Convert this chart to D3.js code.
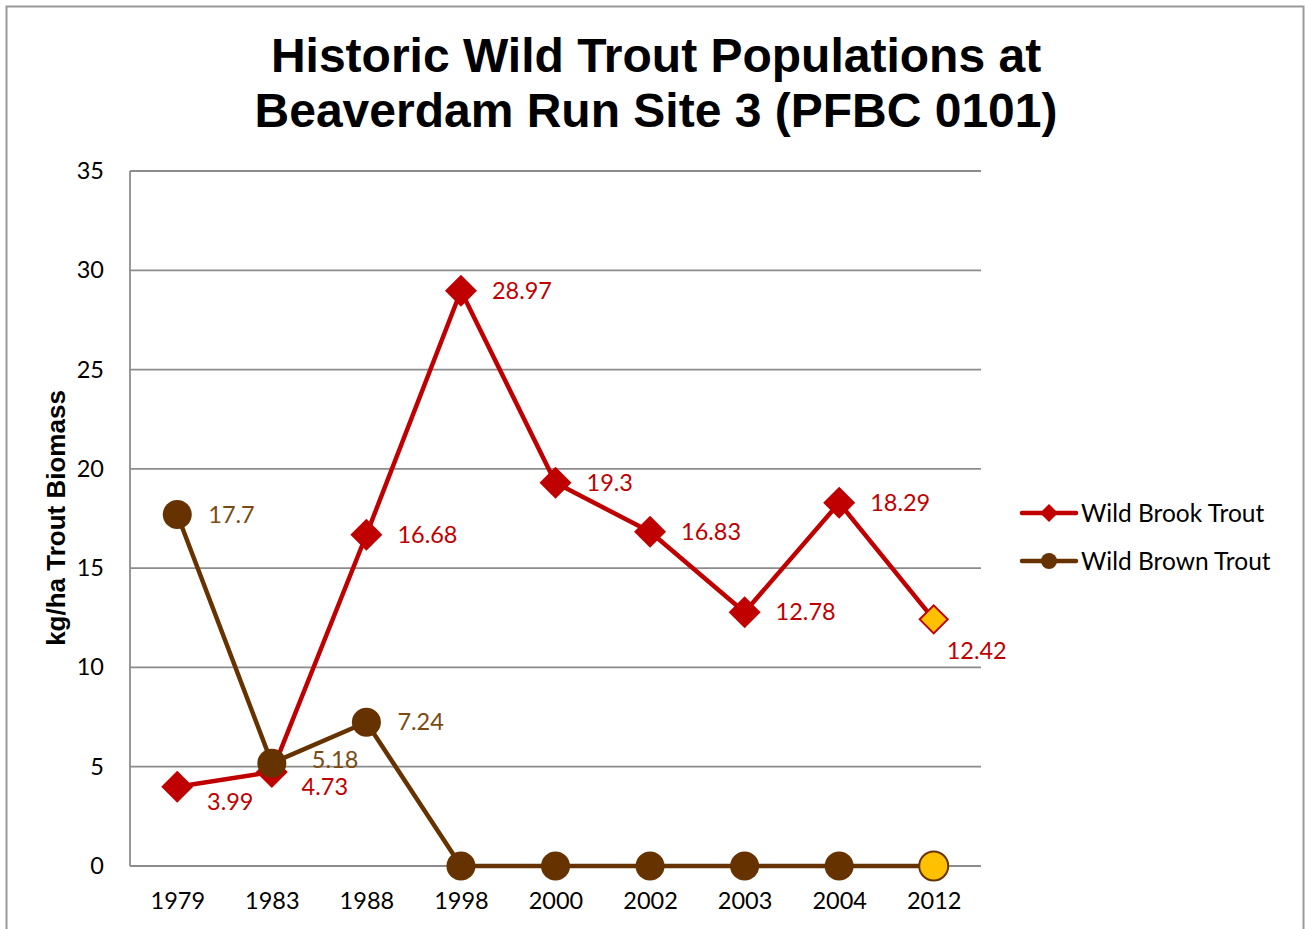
<!DOCTYPE html>
<html>
<head>
<meta charset="utf-8">
<script src="https://cdn.jsdelivr.net/npm/d3@7"></script>
<style>
  html, body { margin: 0; padding: 0; background: #fff; }
  svg { display: block; }
</style>
</head>
<body>
<svg id="chart" width="1305" height="929"></svg>
<script>
// Survey years and biomass (kg/ha) for each species
const years = ["1979", "1983", "1988", "1998", "2000", "2002", "2003", "2004", "2012"];
const brookTrout = [3.99, 4.73, 16.68, 28.97, 19.3, 16.83, 12.78, 18.29, 12.42];
const brownTrout = [17.7, 5.18, 7.24, 0, 0, 0, 0, 0, 0];
const yTicks = [0, 5, 10, 15, 20, 25, 30, 35];
const titleLines = ["Historic Wild Trout Populations at", "Beaverdam Run Site 3 (PFBC 0101)"];
const yLabel = "kg/ha Trout Biomass";
const seriesNames = ["Wild Brook Trout", "Wild Brown Trout"];
// Where each value label sits relative to its marker:
// r = right, rr = further right, br = below right, b = below
const brookLabelPlace = ["br", "br", "r", "r", "r", "r", "r", "r", "b"];
const brownLabelPlace = ["r", "rr", "r", "", "", "", "", "", ""];
// The latest survey is highlighted
const highlightYear = "2012";

const RED = "#C00000", BROWN = "#663300", BROWN_TEXT = "#7A4A10", GOLD = "#FFC000", GRID = "#8C8C8C";
const NUM_FONT = "Lato, 'Open Sans', sans-serif";
const ARIAL = "'Liberation Sans', Arial, sans-serif";

// label anchor offsets per placement code
const PLACE = {
  r:  { dx: 31, dy: 0,  anchor: "start" },
  rr: { dx: 40, dy: -3, anchor: "start" },
  br: { dx: 53, dy: 15, anchor: "middle" },
  b:  { dx: 43, dy: 31, anchor: "middle" }
};

const svg = d3.select("#chart");

// outer frame
svg.append("rect").attr("x", 6.5).attr("y", 6.5).attr("width", 1297).attr("height", 940)
  .attr("fill", "#fff").attr("stroke", "#9a9a9a").attr("stroke-width", 2);

const plot = { left: 130, right: 981, top: 171, bottom: 866 };

const x = d3.scalePoint().domain(years).range([plot.left, plot.right]).padding(0.5);
const y = d3.scaleLinear().domain([0, 35]).range([plot.bottom, plot.top]);

// horizontal gridlines
svg.append("g").selectAll("line").data(yTicks).join("line")
  .attr("x1", plot.left).attr("x2", plot.right)
  .attr("y1", d => y(d)).attr("y2", d => y(d))
  .attr("stroke", GRID).attr("stroke-width", 1.8);

// left axis line
svg.append("line").attr("x1", plot.left).attr("x2", plot.left)
  .attr("y1", plot.top).attr("y2", plot.bottom)
  .attr("stroke", GRID).attr("stroke-width", 1.8);

// y tick labels
const yAxis = svg.append("g").attr("transform", `translate(${plot.left},0)`)
  .call(d3.axisLeft(y).tickValues(yTicks).tickSize(0).tickPadding(26));
yAxis.select(".domain").remove();
yAxis.selectAll("text").attr("font-family", NUM_FONT).attr("font-size", 23.5).attr("fill", "#000");

// x tick labels
const xAxis = svg.append("g").attr("transform", `translate(0,${plot.bottom})`)
  .call(d3.axisBottom(x).tickSize(0).tickPadding(26));
xAxis.select(".domain").remove();
xAxis.selectAll("text").attr("font-family", NUM_FONT).attr("font-size", 23.5).attr("fill", "#000");

// title
svg.append("text").attr("x", 656).attr("y", 72).attr("text-anchor", "middle")
  .attr("font-family", ARIAL).attr("font-weight", "bold")
  .attr("font-size", 48).attr("fill", "#000")
  .selectAll("tspan").data(titleLines).join("tspan")
  .attr("x", 656).attr("dy", (d, i) => i === 0 ? 0 : 55).text(d => d);

// y axis title
svg.append("text")
  .attr("transform", `translate(65,${(388 + 648) / 2}) rotate(-90)`)
  .attr("text-anchor", "middle")
  .attr("font-family", ARIAL).attr("font-weight", "bold")
  .attr("font-size", 26).attr("fill", "#000").text(yLabel);

const line = d3.line().x(d => x(d.year)).y(d => y(d.value));
const diamond = s => `M0,${-s}L${s},0L0,${s}L${-s},0Z`;

function series(values, color, textColor, places, shape) {
  const pts = years.map((yr, i) => ({ year: yr, value: values[i], place: places[i] }));
  const g = svg.append("g");
  g.append("path").datum(pts).attr("d", line)
    .attr("fill", "none").attr("stroke", color).attr("stroke-width", 4.5)
    .attr("stroke-linejoin", "round");
  const marks = g.selectAll(".pt").data(pts).join(shape === "diamond" ? "path" : "circle")
    .attr("fill", d => d.year === highlightYear ? GOLD : color)
    .attr("stroke", color).attr("stroke-width", d => d.year === highlightYear ? 2 : 0);
  if (shape === "diamond") {
    marks.attr("d", d => diamond(d.year === highlightYear ? 14 : 16))
      .attr("transform", d => `translate(${x(d.year)},${y(d.value)})`);
  } else {
    marks.attr("cx", d => x(d.year)).attr("cy", d => y(d.value)).attr("r", 14.5);
  }
  g.selectAll(".lbl").data(pts.filter(d => d.place)).join("text")
    .attr("x", d => x(d.year) + PLACE[d.place].dx)
    .attr("y", d => y(d.value) + PLACE[d.place].dy)
    .attr("dy", "0.35em")
    .attr("text-anchor", d => PLACE[d.place].anchor)
    .attr("font-family", NUM_FONT).attr("font-size", 23.5).attr("fill", textColor)
    .text(d => d.value);
}

series(brookTrout, RED, RED, brookLabelPlace, "diamond");
series(brownTrout, BROWN, BROWN_TEXT, brownLabelPlace, "circle");

// legend
const legend = svg.append("g");
const legendRows = [
  { name: seriesNames[0], color: RED, shape: "diamond", y: 513 },
  { name: seriesNames[1], color: BROWN, shape: "circle", y: 561 }
];
legendRows.forEach(r => {
  legend.append("line").attr("x1", 1022).attr("x2", 1076).attr("y1", r.y).attr("y2", r.y)
    .attr("stroke", r.color).attr("stroke-width", 4.5).attr("stroke-linecap", "round");
  if (r.shape === "diamond") {
    legend.append("path").attr("d", diamond(9)).attr("transform", `translate(1049,${r.y})`).attr("fill", r.color);
  } else {
    legend.append("circle").attr("cx", 1049).attr("cy", r.y).attr("r", 8).attr("fill", r.color);
  }
  legend.append("text").attr("x", 1081).attr("y", r.y).attr("dy", "0.35em")
    .attr("font-family", NUM_FONT).attr("font-size", 24.5).attr("fill", "#000").text(r.name);
});
</script>
</body>
</html>
